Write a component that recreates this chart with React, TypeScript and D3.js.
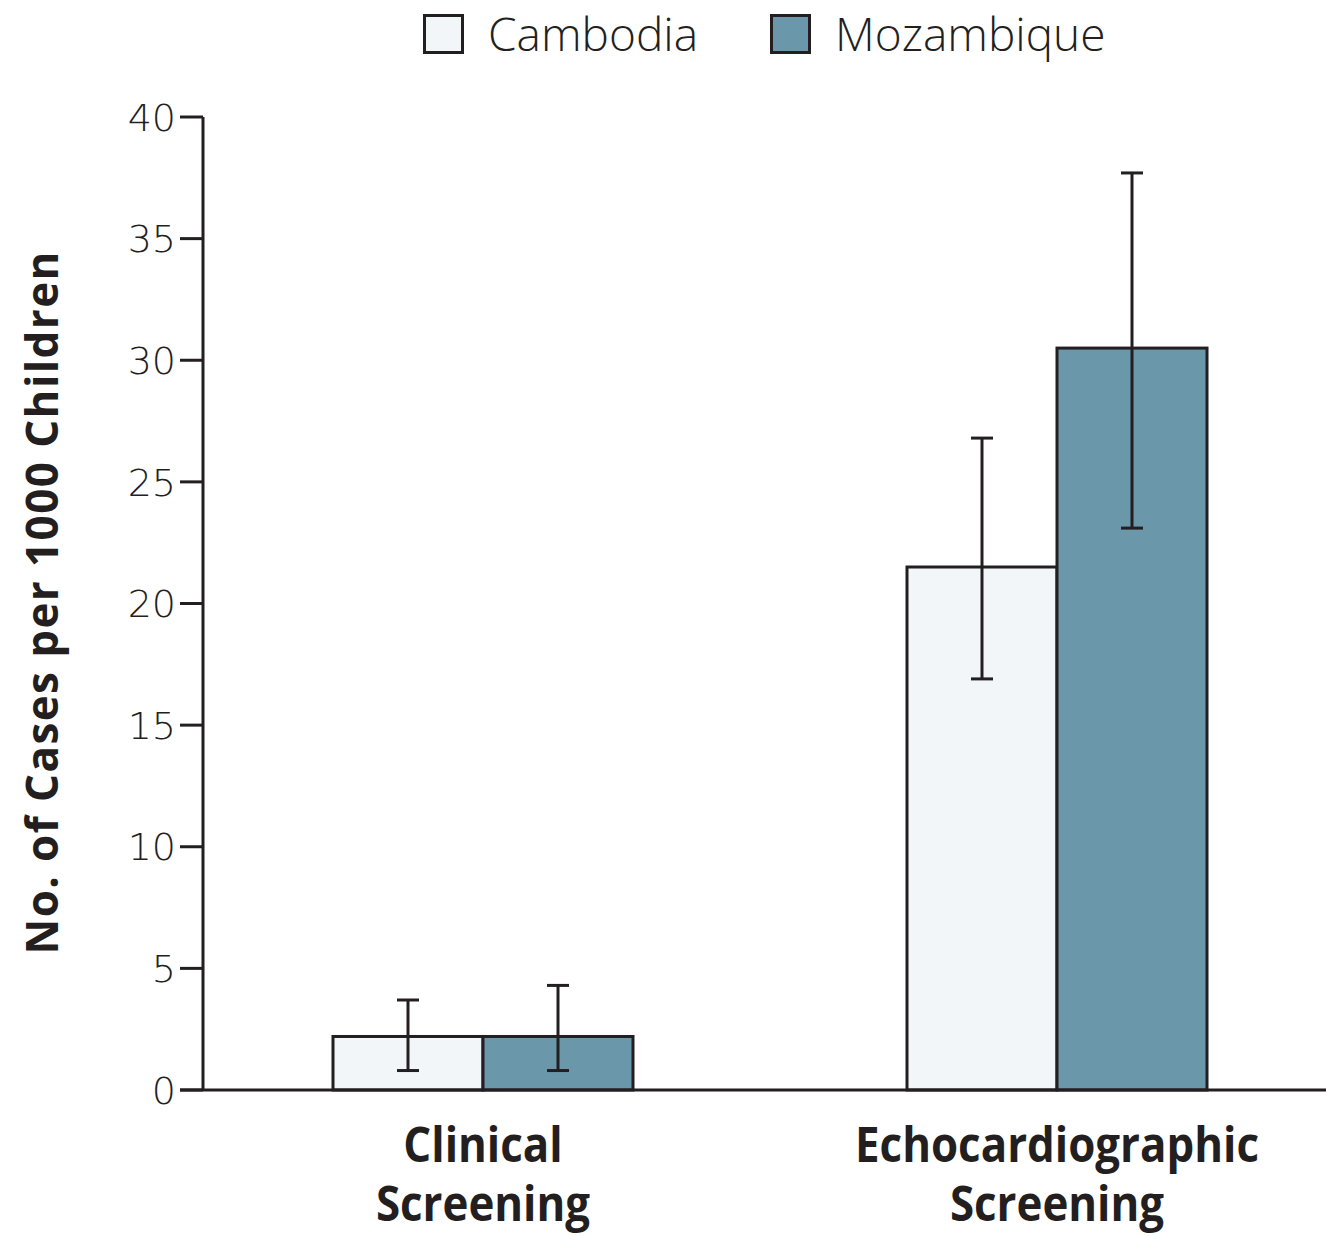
import React from "react";
import * as d3 from "d3";

const categories = ["Clinical\nScreening", "Echocardiographic\nScreening"];
const series = ["Cambodia", "Mozambique"];
const cambodiaValues = [2.2, 21.5];
const cambodiaLow = [0.8, 16.9];
const cambodiaHigh = [3.7, 26.8];
const mozambiqueValues = [2.2, 30.5];
const mozambiqueLow = [0.8, 23.1];
const mozambiqueHigh = [4.3, 37.7];
const yTicks = [0, 5, 10, 15, 20, 25, 30, 35, 40];
const colors = ["#F3F6F9", "#6A97AA"];

const W = 1326;
const H = 1236;
const INK = "#231F20";

export default function App() {
  const x0 = d3.scalePoint<string>().domain(categories).range([483, 1057]);
  const x1 = d3.scaleBand<string>().domain(series).range([-150, 150]).padding(0);
  const y = d3.scaleLinear().domain([0, 40]).range([1090, 117]);

  const data = series.map((s, si) => ({
    name: s,
    color: colors[si],
    values: si === 0 ? cambodiaValues : mozambiqueValues,
    low: si === 0 ? cambodiaLow : mozambiqueLow,
    high: si === 0 ? cambodiaHigh : mozambiqueHigh,
  }));

  const axisX = 203;
  const cap = 11;

  return (
    <svg
      width={W}
      height={H}
      style={{ position: "absolute", left: 0, top: 0, background: "#fff" }}
    >
      {/* legend */}
      {data.map((d, i) => {
        const lx = [423, 770][i];
        return (
          <g key={d.name}>
            <rect x={lx + 1.5} y={15.5} width={38} height={37} fill={d.color} stroke={INK} strokeWidth={3} />
            <text
              x={lx + 65}
              y={51}
              fontFamily="'Open Sans', sans-serif"
              fontWeight={300}
              fontSize={46}
              fill={INK}
            >
              {d.name}
            </text>
          </g>
        );
      })}

      {/* bars */}
      {categories.map((c, ci) => (
        <g key={c}>
          {data.map((d) => {
            const bx = (x0(c) as number) + (x1(d.name) as number);
            const bw = x1.bandwidth();
            return (
              <rect
                key={d.name}
                x={bx}
                y={y(d.values[ci])}
                width={bw}
                height={y(0) - y(d.values[ci])}
                fill={d.color}
                stroke={INK}
                strokeWidth={3}
              />
            );
          })}
        </g>
      ))}

      {/* error bars */}
      {categories.map((c, ci) => (
        <g key={c + "err"}>
          {data.map((d) => {
            const cx = (x0(c) as number) + (x1(d.name) as number) + x1.bandwidth() / 2;
            return (
              <g key={d.name} stroke={INK} strokeWidth={3}>
                <line x1={cx} x2={cx} y1={y(d.low[ci])} y2={y(d.high[ci])} />
                <line x1={cx - cap} x2={cx + cap} y1={y(d.low[ci])} y2={y(d.low[ci])} />
                <line x1={cx - cap} x2={cx + cap} y1={y(d.high[ci])} y2={y(d.high[ci])} />
              </g>
            );
          })}
        </g>
      ))}

      {/* axes */}
      <line x1={axisX} x2={axisX} y1={y(40)} y2={y(0)} stroke={INK} strokeWidth={3} />
      <line x1={180} x2={W} y1={y(0)} y2={y(0)} stroke={INK} strokeWidth={3} />
      {yTicks.map((t) => (
        <g key={t}>
          <line x1={180} x2={axisX} y1={y(t)} y2={y(t)} stroke={INK} strokeWidth={3} />
          <text
            x={176}
            y={y(t)}
            dy="0.36em"
            textAnchor="end"
            fontFamily="'DejaVu Sans', sans-serif"
            fontWeight={200}
            fontSize={38}
            fill={INK}
          >
            {t}
          </text>
        </g>
      ))}

      {/* category labels */}
      {categories.map((c) => {
        const lines = c.split("\n");
        const cx = x0(c) as number;
        return (
          <text
            key={c + "lab"}
            transform={`translate(${cx},0) scale(0.895,1)`}
            textAnchor="middle"
            fontFamily="'Open Sans', sans-serif"
            fontWeight={700}
            fontSize={49}
            fill={INK}
          >
            {lines.map((l, li) => (
              <tspan key={li} x={0} y={1162 + li * 59}>
                {l}
              </tspan>
            ))}
          </text>
        );
      })}

      {/* y axis title */}
      <text
        transform={`translate(58, 603) rotate(-90)`}
        textAnchor="middle"
        fontFamily="'Open Sans', sans-serif"
        fontWeight={700}
        fontSize={44}
        textLength={703}
        lengthAdjust="spacing"
        fill={INK}
      >
        No. of Cases per 1000 Children
      </text>
    </svg>
  );
}
